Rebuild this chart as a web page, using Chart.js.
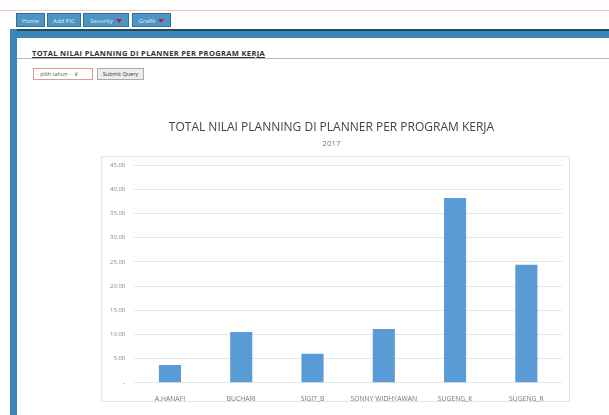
<!DOCTYPE html>
<html>
<head>
<meta charset="utf-8">
<script src="https://cdn.jsdelivr.net/npm/chart.js@4"></script>
<style>
  body { margin: 0; width: 609px; height: 415px; background: #fff; font-family: "Open Sans", Arial, sans-serif; overflow: hidden; position: relative; }
  .pinkline { position: absolute; left: 0; right: 0; top: 10px; height: 1px; background: #f4c4c4; }
  .nav { position: absolute; top: 13px; left: 16px; }
  .nav span { position: absolute; top: 0; height: 14px; background: #4f95c4; border: 1px solid #2f6f9c; color: #d8ecf8; font-size: 6px; line-height: 14px; text-align: center; box-sizing: border-box; }
  .nav i { display: inline-block; width: 0; height: 0; border-left: 3px solid transparent; border-right: 3px solid transparent; border-top: 4px solid #c0174a; margin-left: 3px; vertical-align: middle; }
  .topbar { position: absolute; left: 10px; right: 0; top: 29px; height: 9px; background: #3a86b8; border-top: 2px solid #234a5c; box-sizing: border-box; }
  .leftbar { position: absolute; left: 10px; top: 29px; width: 7px; bottom: 0; background: #3a86b8; }
  .grayline { position: absolute; left: 17px; right: 0; top: 58px; height: 1px; background: #bbb; }
  .heading { position: absolute; left: 32px; top: 48px; font-size: 7.5px; font-weight: bold; color: #333; text-decoration: underline; letter-spacing: 0.35px; }
  .sel { position: absolute; left: 33px; top: 68px; width: 60px; height: 12px; border: 1px solid #d9a089; box-sizing: border-box; font-size: 5.5px; line-height: 10px; color: #555; padding-left: 3px; background: #fff; }
  .btn { position: absolute; left: 97px; top: 68px; width: 47px; height: 12px; border: 1px solid #aaa; background: #eee; box-sizing: border-box; font-size: 5.5px; line-height: 10px; color: #333; text-align: center; }
  #wrap { position: absolute; left: 99px; top: 112px; width: 480px; height: 300px; }
</style>
</head>
<body>
<div class="pinkline"></div>
<div class="nav">
  <span style="left:0;width:29px">Home</span>
  <span style="left:31px;width:34px">Add PIC</span>
  <span style="left:67px;width:46px">Security<i></i></span>
  <span style="left:116px;width:39px">Grafik<i></i></span>
</div>
<div class="topbar"></div>
<div class="leftbar"></div>
<div class="grayline"></div>
<div class="heading">TOTAL NILAI PLANNING DI PLANNER PER PROGRAM KERJA</div>
<div class="sel">- pilih tahun - &nbsp;&#8744;</div>
<div class="btn">Submit Query</div>
<div id="wrap"><canvas id="myChart"></canvas></div>
<script>
var categories = ['A.HANAFI', 'BUCHARI', 'SIGIT_B', 'SONNY WIDHYAWAN', 'SUGENG_K', 'SUGENG_R'];
var values = [3.7, 10.5, 6.0, 11.1, 38.2, 24.4];
var yTicks = [0, 5, 10, 15, 20, 25, 30, 35, 40, 45];

var boxPlugin = {
  id: 'chartBox',
  beforeDraw: function(chart) {
    var ctx = chart.ctx;
    var a = chart.chartArea;
    ctx.save();
    ctx.strokeStyle = '#e2e2e2';
    ctx.lineWidth = 1;
    ctx.strokeRect(a.left - 32.5, a.top - 8.5, a.right - a.left + 40, a.bottom - a.top + 27);
    ctx.restore();
  }
};

document.addEventListener("DOMContentLoaded", function() {
  var ctx = document.getElementById('myChart').getContext('2d');
  new Chart(ctx, {
    type: 'bar',
    data: {
      labels: categories,
      datasets: [{
        label: '2017',
        data: values,
        backgroundColor: '#5b9bd5',
        barPercentage: 0.31,
        categoryPercentage: 1
      }]
    },
    plugins: [boxPlugin],
    options: {
      responsive: true,
      maintainAspectRatio: false,
      animation: false,
      layout: { padding: { left: 2, right: 17, top: 0, bottom: 5 } },
      plugins: {
        legend: { display: false },
        tooltip: { enabled: false },
        title: {
          display: true,
          text: 'TOTAL NILAI PLANNING DI PLANNER PER PROGRAM KERJA',
          color: '#444',
          font: { family: 'Open Sans', size: 12, weight: 'normal' },
          padding: { top: 8, bottom: 5 }
        },
        subtitle: {
          display: true,
          text: '2017',
          color: '#777',
          font: { family: 'Open Sans', size: 8 },
          padding: { top: 0, bottom: 16 }
        }
      },
      scales: {
        x: {
          grid: { display: false },
          border: { display: false },
          ticks: { color: '#777', font: { family: 'Open Sans', size: 6.8 }, maxRotation: 0, padding: 4 }
        },
        y: {
          min: 0,
          max: 45,
          afterBuildTicks: function(axis) {
            axis.ticks = yTicks.map(function(v) { return { value: v }; });
          },
          grid: { color: '#e6e6e6', drawTicks: false },
          border: { display: false },
          ticks: {
            color: '#888',
            font: { family: 'Open Sans', size: 6 },
            padding: 9,
            callback: function(v) { return v === 0 ? '-' : v.toFixed(2); }
          }
        }
      }
    }
  });
});
</script>
</body>
</html>
